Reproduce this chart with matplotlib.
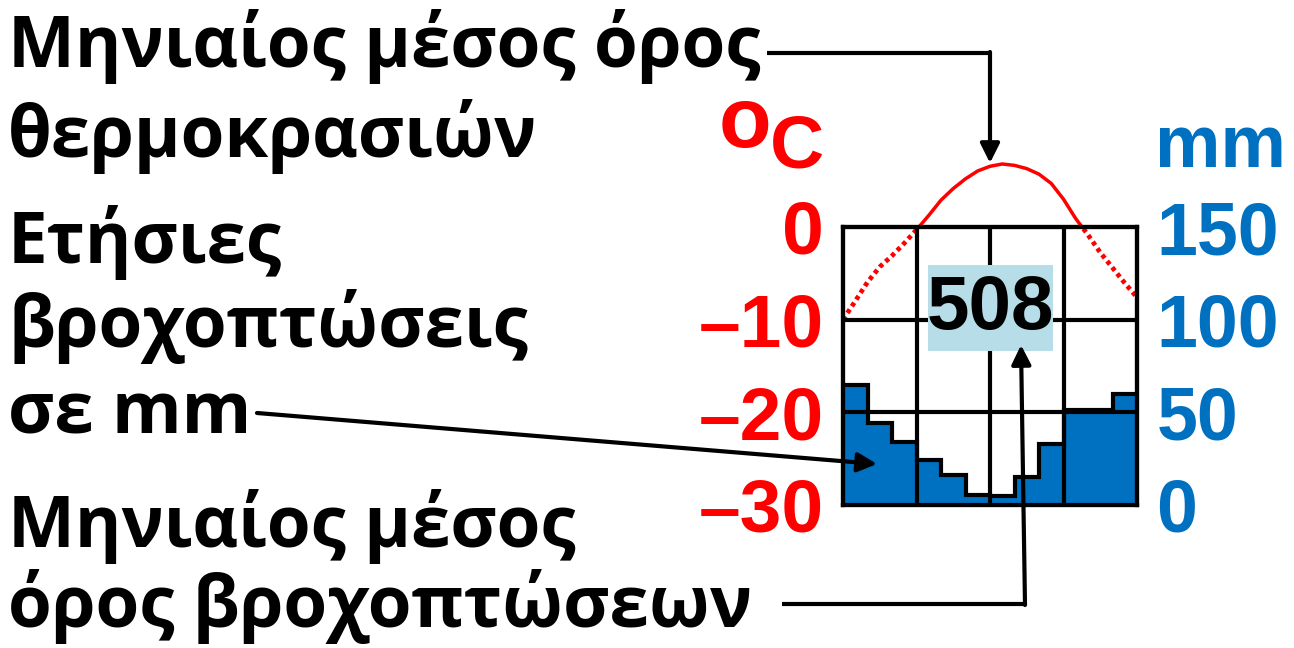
import matplotlib
matplotlib.use('Agg')
import matplotlib.pyplot as plt
from matplotlib.patches import Rectangle
import numpy as np

# monthly precipitation (mm)
precip = [64.5, 44, 34, 24.5, 16, 5.5, 5, 15, 33, 51, 51, 60]
# temperature (°C) read every half month from the start of Jan to the end of Dec
temp_pos = np.arange(0, 12.5, 0.5)
temp = [-10.0, -8.0, -5.95, -4.3, -3.1, -1.75, -0.3, 1.25, 2.9, 4.15, 5.2, 6.05, 6.55,
        6.8, 6.65, 6.3, 5.7, 4.7, 3.0, 0.9, -0.85, -2.75, -4.4, -6.05, -7.6]

temp_ticks = [0, -10, -20, -30]
temp_labels = ['0', '–10', '–20', '–30']
rain_ticks = [0, 50, 100, 150]
rain_labels = ['0', '50', '100', '150']
annual_total = '508'

RED = '#FF0000'
BLUE = '#0070C0'
GREEK = 'Open Sans'
NUM = 'Liberation Sans'

W, H = 1294, 648
fig = plt.figure(figsize=(W / 100, H / 100), dpi=100)

# --- climate diagram ---
x0, x1, yt, yb = 843, 1137, 227, 505
ax = fig.add_axes([x0 / W, 1 - yb / H, (x1 - x0) / W, (yb - yt) / H])
ax.set_xlim(0, 12)
ax.set_ylim(-30, 0)
ax2 = ax.twinx()
ax2.set_ylim(0, 150)

edges = np.arange(0, 13)
ax2.stairs(precip, edges, fill=True, color=BLUE, zorder=1)
ax2.stairs(precip, edges, baseline=0, color='k', lw=3, zorder=2)

# grid on top of the bars
for v in [50, 100]:
    ax2.axhline(v, color='k', lw=3, zorder=3)
for v in [3, 6, 9]:
    ax2.axvline(v, color='k', lw=3, zorder=3)

# temperature: solid above 0, dotted below 0
ln_dot, = ax.plot(temp_pos, temp, color=RED, lw=3.4, ls=(0, (0.9, 0.8)))
ln_sol, = ax.plot(temp_pos, temp, color=RED, lw=2.5)
ln_sol.set_clip_path(Rectangle((-0.1, 1.0), 1.2, 1.0, transform=ax.transAxes))

for a in (ax, ax2):
    for s in a.spines.values():
        s.set_linewidth(3)
        s.set_color('k')
ax.set_xticks([])
ax.set_yticks(temp_ticks)
ax.set_yticklabels(temp_labels, fontsize=54, fontweight='bold', color=RED, family=NUM)
ax.tick_params(axis='y', length=0, pad=14)
ax2.set_yticks(rain_ticks)
ax2.set_yticklabels(rain_labels, fontsize=53, fontweight='bold', color=BLUE, family=NUM)
ax2.tick_params(axis='y', length=0, pad=14)

# --- overlay in pixel coordinates for labels and arrows ---
ov = fig.add_axes([0, 0, 1, 1], zorder=10)
ov.set_xlim(0, W)
ov.set_ylim(H, 0)
ov.axis('off')
ov.patch.set_alpha(0)

tk = dict(fontsize=51, fontweight='bold', family=GREEK, color='k', va='baseline', ha='left')
ov.text(8, 67, 'Μηνιαίος μέσος όρος', **tk)
ov.text(8, 157, 'θερμοκρασιών', **tk)
ov.text(8, 263, 'Ετήσιες', **tk)
ov.text(8, 347, 'βροχοπτώσεις', **tk)
ov.text(8, 433, 'σε mm', **tk)
ov.text(8, 547, 'Μηνιαίος μέσος', **tk)
ov.text(8, 627, 'όρος βροχοπτώσεων', **tk)

ov.text(719, 147, 'o', fontsize=62, fontweight='bold', family=NUM, color=RED, va='baseline')
ov.text(824, 168, 'C', fontsize=54, fontweight='bold', family=NUM, color=RED, va='baseline', ha='right')
ov.text(1155, 167, 'mm', fontsize=53, fontweight='bold', family=NUM, color=BLUE, va='baseline')

ov.add_patch(Rectangle((928, 265), 125, 86, facecolor='#B7DEE8', edgecolor='none'))
ov.text(990, 309, annual_total, fontsize=55, fontweight='bold', family=NUM,
        color='k', ha='center', va='center')

ap = dict(arrowstyle='-|>', lw=3, color='k', mutation_scale=29, shrinkA=0, shrinkB=0)
ov.plot([767, 990], [53, 53], color='k', lw=3, solid_capstyle='butt')
ov.annotate('', xy=(990, 163), xytext=(990, 52), arrowprops=ap)
ov.annotate('', xy=(877, 464), xytext=(257, 413), arrowprops=ap)
ov.plot([782, 1025], [604, 604], color='k', lw=3, solid_capstyle='butt')
ov.annotate('', xy=(1021, 345), xytext=(1025, 605), arrowprops=ap)

fig.savefig('out.png', dpi=100)
